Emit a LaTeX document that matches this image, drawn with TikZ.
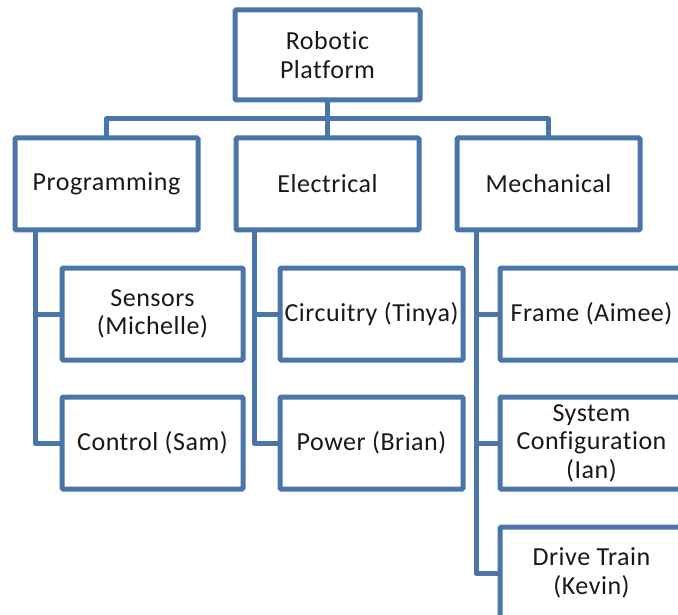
\documentclass[tikz,border=0pt]{standalone}
\usepackage{fontspec}
\setmainfont{Carlito}[Ligatures={NoCommon}, LetterSpace=2]
\usetikzlibrary{calc}
\definecolor{orgblue}{RGB}{74,117,168}
\tikzset{
  box/.style={draw=orgblue, line width=5pt, fill=white, rounded corners=1.2pt,
    minimum width=183pt, minimum height=92pt, inner sep=2pt, outer sep=0pt,
    align=center, font=\fontsize{26}{28.5}\selectfont, text=black!90},
  link/.style={draw=orgblue, line width=5pt, line join=round}
}
\begin{document}
\begin{tikzpicture}[x=1pt, y=-1pt]
  \useasboundingbox (0,0) rectangle (678,615);
  \clip (0,0) rectangle (678,615);

  % top level
  \node[box, minimum width=185pt, minimum height=90pt] (top) at (327.5,55) {Robotic\\Platform};

  % second level
  \node[box] (prog) at (106.5,184) {Programming};
  \node[box] (elec) at (327.5,184) {Electrical};
  \node[box] (mech) at (548.5,184) {Mechanical};

  % bus between the levels
  \draw[link] (top.south) -- (elec.north);
  \draw[link] (prog.north) |- ($(top.south)!0.5!(elec.north)$) -| (mech.north);

  % programming team
  \node[box, minimum width=181pt] (sens) at (152.5,314) {Sensors\\(Michelle)};
  \node[box, minimum width=181pt] (ctrl) at (152.5,443) {Control (Sam)};
  \draw[link] ([xshift=20pt]prog.south west) |- (ctrl.west);
  \draw[link] ([xshift=20pt]prog.south west) |- (sens.west);

  % electrical team
  \node[box] (circ) at (371.5,314) {Circuitry (Tinya)};
  \node[box] (powr) at (371.5,443) {Power (Brian)};
  \draw[link] ([xshift=18pt]elec.south west) |- (powr.west);
  \draw[link] ([xshift=18pt]elec.south west) |- (circ.west);

  % mechanical team
  \node[box] (frame) at (591.5,314) {Frame (Aimee)};
  \node[box] (sysc) at (591.5,443) {System\\Configuration\\(Ian)};
  \node[box] (drive) at (591.5,573) {Drive Train\\(Kevin)};
  \draw[link] ([xshift=19pt]mech.south west) |- (drive.west);
  \draw[link] ([xshift=19pt]mech.south west) |- (sysc.west);
  \draw[link] ([xshift=19pt]mech.south west) |- (frame.west);
\end{tikzpicture}
\end{document}
